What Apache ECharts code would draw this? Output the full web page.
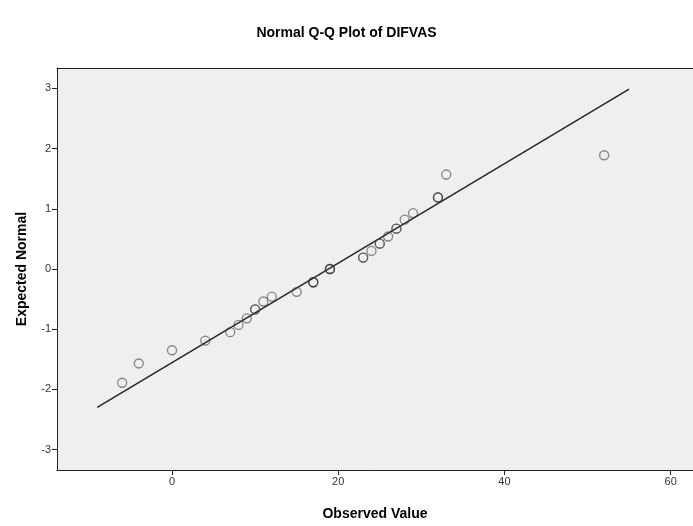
<!DOCTYPE html>
<html>
<head>
<meta charset="utf-8">
<script src="https://cdn.jsdelivr.net/npm/echarts@6/dist/echarts.min.js"></script>
<style>
html,body{margin:0;padding:0;background:#fff;}
#chart{width:693px;height:526px;}
</style>
</head>
<body>
<div id="chart"></div>
<script>
const observed = [-6, -4, 0, 4, 7, 8, 9, 10, 10, 11, 12, 15, 17, 17, 17, 19, 19, 19, 23, 23, 24, 25, 25, 26, 27, 27, 28, 29, 32, 32, 32, 33, 52];
const expected = [-1.89, -1.57, -1.35, -1.19, -1.05, -0.93, -0.82, -0.67, -0.67, -0.54, -0.46, -0.38, -0.22, -0.22, -0.22, 0.0, 0.0, 0.0, 0.19, 0.19, 0.30, 0.42, 0.42, 0.54, 0.67, 0.67, 0.82, 0.93, 1.19, 1.19, 1.19, 1.57, 1.89];
// Reference line end points
const lineX = [-9, 55];
const lineY = [-2.30, 2.99];
// Tick labels
const xTicks = [0, 20, 40, 60];
const yTicks = [-3, -2, -1, 0, 1, 2, 3];

const font = '"Liberation Sans", Arial, sans-serif';
const xMin = -13.84, xMax = 62.69;
const chart = echarts.init(document.getElementById('chart'), null, {renderer: 'canvas'});
chart.setOption({
  animation: false,
  backgroundColor: '#ffffff',
  title: {
    text: 'Normal Q-Q Plot of DIFVAS',
    left: 'center',
    top: 21,
    textStyle: {fontFamily: font, fontSize: 14, fontWeight: 'bold', color: '#000'}
  },
  grid: {
    left: 57, top: 68, right: 0, bottom: 56,
    show: true, backgroundColor: '#efefef', borderWidth: 0,
    containLabel: false
  },
  xAxis: [{
    type: 'value',
    min: xMin, max: xMax,
    name: 'Observed Value',
    nameLocation: 'middle',
    nameGap: 37,
    nameTextStyle: {fontFamily: font, fontSize: 14, fontWeight: 'bold', color: '#000'},
    axisLine: {show: true, onZero: false, lineStyle: {color: '#222', width: 1}},
    axisTick: {show: true, inside: false, customValues: xTicks, length: 5, lineStyle: {color: '#222'}},
    axisLabel: {customValues: xTicks, fontFamily: font, fontSize: 11, color: '#333', margin: 6},
    splitLine: {show: false}
  }, {
    type: 'value',
    position: 'top',
    min: xMin, max: xMax,
    axisLine: {show: true, onZero: false, lineStyle: {color: '#222', width: 1}},
    axisTick: {show: false},
    axisLabel: {show: false},
    splitLine: {show: false}
  }],
  yAxis: {
    type: 'value',
    min: -3.34, max: 3.34,
    name: 'Expected Normal',
    nameLocation: 'middle',
    nameGap: 28,
    nameRotate: 90,
    nameTextStyle: {fontFamily: font, fontSize: 14, fontWeight: 'bold', color: '#000'},
    axisLine: {show: true, onZero: false, lineStyle: {color: '#222', width: 1}},
    axisTick: {show: true, inside: false, customValues: yTicks, length: 5, lineStyle: {color: '#222'}},
    axisLabel: {customValues: yTicks, fontFamily: font, fontSize: 11, color: '#333', margin: 6},
    splitLine: {show: false}
  },
  series: [
    {
      type: 'line',
      data: lineX.map((x, i) => [x, lineY[i]]),
      showSymbol: false,
      symbol: 'none',
      lineStyle: {color: '#222', width: 1.4},
      z: 2
    },
    {
      type: 'scatter',
      data: observed.map((x, i) => [x, expected[i]]),
      symbol: 'circle',
      symbolSize: 9,
      itemStyle: {color: 'rgba(0,0,0,0)', borderColor: 'rgba(60,60,60,0.75)', borderWidth: 1.3},
      z: 3
    }
  ]
});
</script>
</body>
</html>
